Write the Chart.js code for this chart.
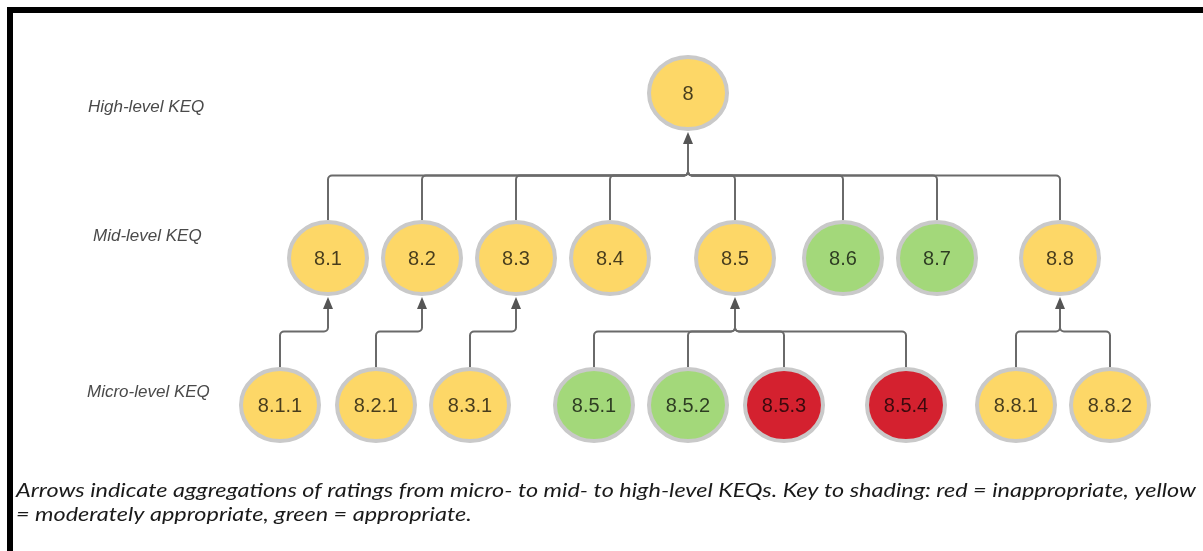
<!DOCTYPE html>
<html>
<head>
<meta charset="utf-8">
<script src="https://cdn.jsdelivr.net/npm/chart.js@4.4.0/dist/chart.umd.min.js"></script>
<style>
  html, body { margin: 0; padding: 0; background: #fff; }
  canvas { display: block; }
</style>
</head>
<body>
<canvas id="keqChart" width="1203" height="551"></canvas>
<script>
// KEQ tree: one array per level, positions are layout columns / rows
const highNodes = ['8'];
const highRating = ['moderate'];
const highX = [68.8];

const midNodes = ['8.1', '8.2', '8.3', '8.4', '8.5', '8.6', '8.7', '8.8'];
const midParent = ['8', '8', '8', '8', '8', '8', '8', '8'];
const midRating = ['moderate', 'moderate', 'moderate', 'moderate', 'moderate', 'appropriate', 'appropriate', 'moderate'];
const midX = [32.8, 42.2, 51.6, 61.0, 73.5, 84.3, 93.7, 106.0];

const microNodes = ['8.1.1', '8.2.1', '8.3.1', '8.5.1', '8.5.2', '8.5.3', '8.5.4', '8.8.1', '8.8.2'];
const microParent = ['8.1', '8.2', '8.3', '8.5', '8.5', '8.5', '8.5', '8.8', '8.8'];
const microRating = ['moderate', 'moderate', 'moderate', 'appropriate', 'appropriate', 'inappropriate', 'inappropriate', 'moderate', 'moderate'];
const microX = [28.0, 37.6, 47.0, 59.4, 68.8, 78.4, 90.6, 101.6, 111.0];

const levelNames = ['High-level KEQ', 'Mid-level KEQ', 'Micro-level KEQ'];
const levelY = [4.58, 2.93, 1.46];

const captionLines = [
  'Arrows indicate aggregations of ratings from micro- to mid- to high-level KEQs. Key to shading: red = inappropriate, yellow',
  '= moderately appropriate, green = appropriate.'
];

const ratingColors = {
  inappropriate: '#d4212f',
  moderate: '#fdd767',
  appropriate: '#a3d87a'
};

const RX = 41, RY = 38;

function makeNode(fill) {
  const c = document.createElement('canvas');
  c.width = RX * 2 + 2;
  c.height = RY * 2 + 2;
  const g = c.getContext('2d');
  g.beginPath();
  g.ellipse(RX + 1, RY + 1, RX - 2, RY - 2, 0, 0, Math.PI * 2);
  g.fillStyle = fill;
  g.fill();
  g.lineWidth = 4;
  g.strokeStyle = '#c9c9c9';
  g.stroke();
  return c;
}
const nodeImg = {};
Object.keys(ratingColors).forEach(k => { nodeImg[k] = makeNode(ratingColors[k]); });

function levelData(xs, y) {
  return xs.map(x => ({ x: x, y: y }));
}

const links = [];
midNodes.forEach((n, i) => links.push([n, midParent[i]]));
microNodes.forEach((n, i) => links.push([n, microParent[i]]));

function nodePositions(chart) {
  const pos = {};
  chart.data.datasets.forEach((ds, d) => {
    chart.getDatasetMeta(d).data.forEach((pt, i) => {
      pos[ds.nodeNames[i]] = { x: pt.x, y: pt.y };
    });
  });
  return pos;
}

const treePlugin = {
  id: 'tree',
  beforeDatasetsDraw(chart) {
    const ctx = chart.ctx;
    const pos = nodePositions(chart);
    const r = 4;
    ctx.save();
    ctx.strokeStyle = '#6a6a6a';
    ctx.lineWidth = 2;
    const parents = {};
    links.forEach(([c, p]) => {
      const a = pos[c], b = pos[p];
      const top = a.y - RY;
      const bottom = b.y + RY;
      const barY = (top + bottom) / 2;
      ctx.beginPath();
      ctx.moveTo(a.x, top);
      if (Math.abs(a.x - b.x) < 1) {
        ctx.lineTo(b.x, bottom + 10);
      } else {
        ctx.arcTo(a.x, barY, b.x, barY, r);
        ctx.arcTo(b.x, barY, b.x, bottom + 10, r);
        ctx.lineTo(b.x, bottom + 10);
      }
      ctx.stroke();
      parents[p] = b;
    });
    // arrow heads under each parent
    ctx.fillStyle = '#555';
    Object.values(parents).forEach(b => {
      const tip = b.y + RY + 1;
      ctx.beginPath();
      ctx.moveTo(b.x, tip);
      ctx.lineTo(b.x - 5, tip + 12);
      ctx.lineTo(b.x + 5, tip + 12);
      ctx.closePath();
      ctx.fill();
    });
    ctx.restore();
  },
  afterDatasetsDraw(chart) {
    const ctx = chart.ctx;
    ctx.save();
    ctx.textAlign = 'center';
    ctx.textBaseline = 'middle';
    ctx.font = '20px "Liberation Sans", Arial, sans-serif';
    ctx.fillStyle = 'rgba(0,0,0,0.72)';
    chart.data.datasets.forEach((ds, d) => {
      chart.getDatasetMeta(d).data.forEach((pt, i) => {
        ctx.fillText(ds.nodeNames[i], pt.x, pt.y + 1);
      });
    });
    ctx.restore();
  },
  afterDraw(chart) {
    const ctx = chart.ctx;
    ctx.save();
    // row labels
    ctx.font = 'italic 17px "Liberation Sans", Arial, sans-serif';
    ctx.fillStyle = '#4a4a4a';
    ctx.textBaseline = 'middle';
    ctx.textAlign = 'left';
    const labelPos = [[88, 107], [93, 236], [87, 392]];
    levelNames.forEach((t, i) => ctx.fillText(t, labelPos[i][0], labelPos[i][1]));

    // caption, fitted to the box width
    ctx.font = 'italic 19.5px Lato, "Open Sans", sans-serif';
    ctx.fillStyle = '#1a1a1a';
    ctx.textBaseline = 'alphabetic';
    const sx = 1180 / ctx.measureText(captionLines[0]).width;
    ctx.save();
    ctx.translate(16, 0);
    ctx.scale(sx, 1);
    ctx.fillText(captionLines[0], 0, 497);
    ctx.fillText(captionLines[1], 0, 521);
    ctx.restore();

    // frame (top and left edges)
    ctx.fillStyle = '#000';
    ctx.fillRect(7, 7, 1196, 6);
    ctx.fillRect(7, 7, 6, 544);
    ctx.restore();
  }
};

new Chart(document.getElementById('keqChart'), {
  type: 'scatter',
  data: {
    datasets: [
      {
        nodeNames: highNodes,
        data: levelData(highX, levelY[0]),
        pointStyle: highRating.map(r => nodeImg[r]),
        pointRadius: 40
      },
      {
        nodeNames: midNodes,
        data: levelData(midX, levelY[1]),
        pointStyle: midRating.map(r => nodeImg[r]),
        pointRadius: 40
      },
      {
        nodeNames: microNodes,
        data: levelData(microX, levelY[2]),
        pointStyle: microRating.map(r => nodeImg[r]),
        pointRadius: 40
      }
    ]
  },
  options: {
    responsive: false,
    animation: false,
    layout: { padding: 0, autoPadding: false },
    plugins: { legend: { display: false }, tooltip: { enabled: false } },
    scales: {
      x: { type: 'linear', display: false, min: 0, max: 120.3 },
      y: { type: 'linear', display: false, min: 0, max: 5.51 }
    }
  },
  plugins: [treePlugin]
});
</script>
</body>
</html>
